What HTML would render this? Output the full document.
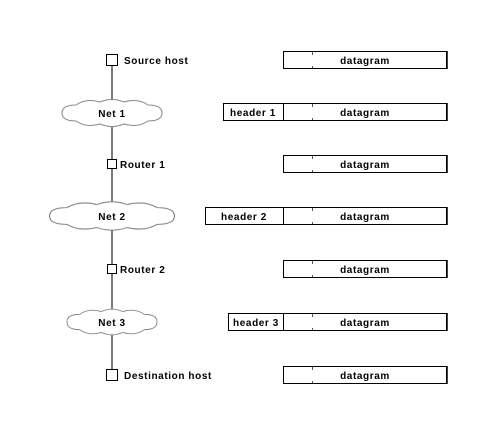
<!DOCTYPE html>
<html><head><meta charset="utf-8"><style>
html,body{margin:0;padding:0;background:#fff;}
text{font-family:"Liberation Sans",Arial,sans-serif;font-size:10px;font-weight:bold;fill:#000;letter-spacing:0.6px;}
</style></head><body>
<svg width="498" height="434" viewBox="0 0 498 434" xmlns="http://www.w3.org/2000/svg">
<defs>
<path id="cl" d="M-50,0 Q-50,-8 -36,-8 Q-26,-15 -12,-11 Q0,-16 12,-11 Q26,-15 36,-8 Q50,-8 50,0 Q50,8 36,8 Q26,15 12,11 Q0,16 -12,11 Q-26,15 -36,8 Q-50,8 -50,0Z"/>
</defs>
<line x1="112" y1="60" x2="112" y2="375" stroke="#333" stroke-width="1.3"/>
<g fill="#fff" stroke="#888" stroke-width="1">
<use href="#cl" transform="translate(112,113)"/>
<use href="#cl" transform="translate(112,216) scale(1.25,1.05)"/>
<use href="#cl" transform="translate(112,322) scale(0.9,0.95)"/>
</g>
<text x="112" y="117" text-anchor="middle">Net 1</text>
<text x="112" y="220" text-anchor="middle">Net 2</text>
<text x="112" y="326" text-anchor="middle">Net 3</text>
<g fill="#fff" stroke="#000" stroke-width="1">
<rect x="106.5" y="54.5" width="11" height="11"/>
<rect x="107.5" y="159.5" width="9" height="9"/>
<rect x="107.5" y="264.5" width="9" height="9"/>
<rect x="106.5" y="369.5" width="11" height="11"/>
</g>
<text x="124" y="64">Source host</text>
<text x="120" y="168">Router 1</text>
<text x="120" y="273">Router 2</text>
<text x="124" y="379">Destination host</text>
<g fill="#fff" stroke="#000" stroke-width="1">
<rect x="283.5" y="51.5" width="163" height="17"/>
<rect x="283.5" y="103.5" width="163" height="17"/>
<rect x="283.5" y="155.5" width="163" height="17"/>
<rect x="283.5" y="207.5" width="163" height="17"/>
<rect x="283.5" y="260.5" width="163" height="17"/>
<rect x="283.5" y="313.5" width="163" height="17"/>
<rect x="283.5" y="366.5" width="163" height="17"/>
<rect x="223.5" y="103.5" width="60" height="17"/>
<rect x="205.5" y="207.5" width="78" height="17"/>
<rect x="228.5" y="313.5" width="55" height="17"/>
</g>
<g stroke="#000" stroke-width="1.5">
<line x1="447" y1="51" x2="447" y2="69"/><line x1="447" y1="103" x2="447" y2="121"/>
<line x1="447" y1="155" x2="447" y2="173"/><line x1="447" y1="207" x2="447" y2="225"/>
<line x1="447" y1="260" x2="447" y2="278"/><line x1="447" y1="313" x2="447" y2="331"/>
<line x1="447" y1="366" x2="447" y2="384"/>
</g>
<g stroke="#555" stroke-width="1">
<line x1="312.5" y1="52" x2="312.5" y2="55"/><line x1="312.5" y1="66" x2="312.5" y2="68"/>
<line x1="312.5" y1="104" x2="312.5" y2="107"/><line x1="312.5" y1="118" x2="312.5" y2="120"/>
<line x1="312.5" y1="156" x2="312.5" y2="159"/><line x1="312.5" y1="170" x2="312.5" y2="172"/>
<line x1="312.5" y1="208" x2="312.5" y2="211"/><line x1="312.5" y1="222" x2="312.5" y2="224"/>
<line x1="312.5" y1="261" x2="312.5" y2="264"/><line x1="312.5" y1="275" x2="312.5" y2="277"/>
<line x1="312.5" y1="314" x2="312.5" y2="317"/><line x1="312.5" y1="328" x2="312.5" y2="330"/>
<line x1="312.5" y1="367" x2="312.5" y2="370"/><line x1="312.5" y1="381" x2="312.5" y2="383"/>
</g>
<g text-anchor="middle">
<text x="365" y="64">datagram</text>
<text x="365" y="116">datagram</text>
<text x="365" y="168">datagram</text>
<text x="365" y="220">datagram</text>
<text x="365" y="273">datagram</text>
<text x="365" y="326">datagram</text>
<text x="365" y="379">datagram</text>
<text x="253" y="116">header 1</text>
<text x="244" y="220">header 2</text>
<text x="256" y="326">header 3</text>
</g>
</svg>
</body></html>
